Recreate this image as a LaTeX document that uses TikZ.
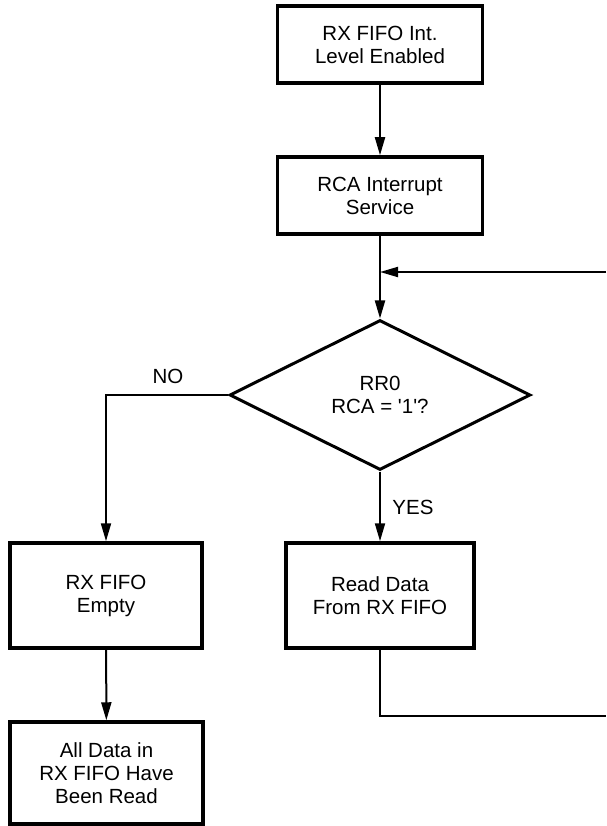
\documentclass[tikz,border=0pt]{standalone}
\usepackage{fontspec}
\setmainfont{Liberation Sans}
\usetikzlibrary{arrows.meta,shapes.geometric}
\begin{document}
\begin{tikzpicture}[x=1pt,y=-1pt,
  every node/.style={font=\fontsize{20.5}{23}\selectfont},
  box/.style={draw,line width=3.5pt,rectangle,align=center,inner sep=0pt},
  dec/.style={draw,line width=3pt,diamond,align=center,inner sep=0pt,minimum width=301pt,minimum height=150pt},
  conn/.style={line width=2pt,-{Triangle[length=18pt,width=10pt]}},
  plain/.style={line width=2pt},
  lbl/.style={inner sep=0pt}]
\useasboundingbox (0,0) rectangle (606,826);
\node[box,minimum width=205pt,minimum height=77pt] (b1) at (380,44.5) {RX FIFO Int.\\Level Enabled};
\node[box,minimum width=205pt,minimum height=77pt] (b2) at (380,195.5) {RCA Interrupt\\Service};
\node[dec] (dia) at (380,395) {RR0\\RCA = \textquotesingle1\textquotesingle?};
\node[box,minimum width=192pt,minimum height=105pt] (lb1) at (106,595.5) {RX FIFO\\Empty};
\node[box,minimum width=188pt,minimum height=105pt] (rb) at (380,595.5) {Read Data\\From RX FIFO};
\node[box,minimum width=193pt,minimum height=102pt] (lb2) at (106.5,773) {All Data in\\RX FIFO Have\\Been Read};
\coordinate (fbR) at (606,272);
\coordinate (fbJ) at (380,272);
\coordinate (rbEnd) at (606,716);
\draw[conn] (b1) -- (b2);
\draw[conn] (b2) -- (dia);
\draw[conn] (fbR) -- (fbJ);
\draw[conn] (dia.west) -| (lb1.north);
\draw[conn] (dia.south) -- (rb.north);
\draw[conn] (lb1) -- (lb2);
\draw[plain] (rb.south) |- (rbEnd);
\node[lbl] (no) at (168,376) {NO};
\node[lbl] (yes) at (413,507) {YES};
\end{tikzpicture}
\end{document}
